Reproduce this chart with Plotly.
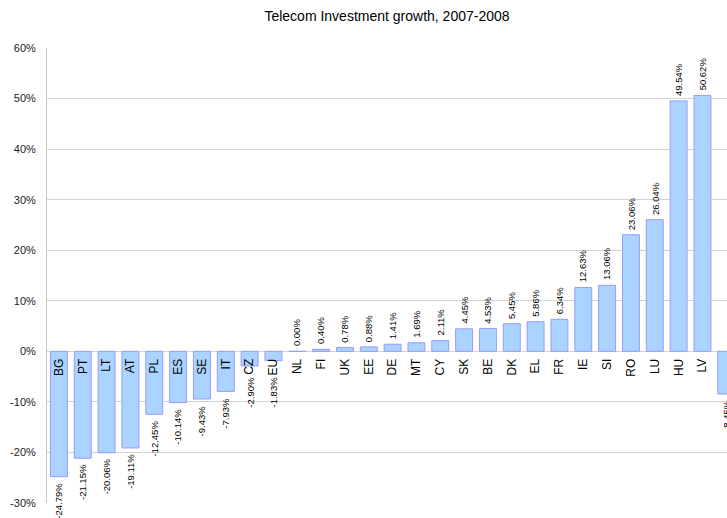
import plotly.graph_objects as go

countries = ["BG", "PT", "LT", "AT", "PL", "ES", "SE", "IT", "CZ", "EU",
             "NL", "FI", "UK", "EE", "DE", "MT", "CY", "SK", "BE", "DK",
             "EL", "FR", "IE", "SI", "RO", "LU", "HU", "LV", "CH"]
growth = [-24.79, -21.15, -20.06, -19.11, -12.45, -10.14, -9.43, -7.93, -2.90, -1.83,
          0.00, 0.40, 0.78, 0.88, 1.41, 1.69, 2.11, 4.45, 4.53, 5.45,
          5.86, 6.34, 12.63, 13.06, 23.06, 26.04, 49.54, 50.62, -8.45]
y_ticks = [-30, -20, -10, 0, 10, 20, 30, 40, 50, 60]

font = "Liberation Sans, Arial, sans-serif"
y_min, y_max = -30, 60
# value labels of short negative bars are pushed below the country names
name_floor = -3.8

fig = go.Figure(go.Bar(
    x=list(range(len(countries))),
    y=growth,
    cliponaxis=False,
    marker=dict(color="#aad4ff", line=dict(color="#9999ff", width=1)),
    hoverinfo="skip",
))

for i, v in enumerate(growth):
    neg = v < 0
    fig.add_annotation(
        x=i, y=min(v, name_floor) if neg else v,
        xref="x", yref="y",
        text=f"{v:.2f}%", showarrow=False, textangle=-90,
        xanchor="center", yanchor="top" if neg else "bottom",
        yshift=-4 if neg else 3,
        font=dict(size=9.5, color="#000000", family=font),
    )

fig.update_layout(
    width=727, height=518,
    margin=dict(l=47, r=0, t=48, b=15),
    paper_bgcolor="white", plot_bgcolor="white",
    bargap=0.29,
    showlegend=False,
    font=dict(family=font, size=11, color="#000000"),
    title=dict(text="Telecom Investment growth, 2007-2008",
               x=0.5, xref="paper", xanchor="center",
               y=1 - 16 / 518, yref="container", yanchor="middle",
               font=dict(size=14, color="#000000", family=font)),
    yaxis=dict(range=[y_min, y_max], tickvals=y_ticks,
               ticktext=[f"{v}%" for v in y_ticks],
               showgrid=True, gridcolor="#d3d3d3", gridwidth=1,
               zeroline=True, zerolinecolor="#d3d3d3", zerolinewidth=1,
               showline=True, linecolor="#c8c8c8", linewidth=1,
               ticks="", ticklabelstandoff=8,
               tickfont=dict(size=11, color="#222222", family=font)),
    xaxis=dict(range=[-0.5, 28.03],
               tickvals=list(range(len(countries))), ticktext=countries,
               tickangle=-90, showgrid=False, zeroline=False, showline=False,
               ticks="", anchor="free", ticklabelstandoff=4,
               position=(0 - y_min) / (y_max - y_min),
               tickfont=dict(size=12, color="#000000", family=font)),
)

fig.write_html("out.html")
